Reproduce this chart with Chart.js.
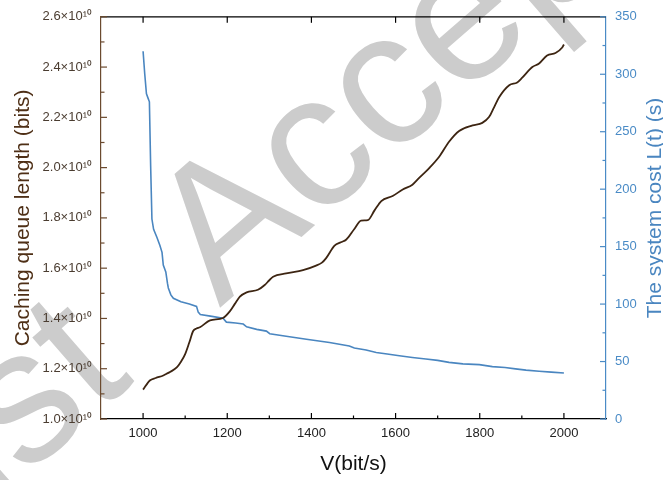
<!DOCTYPE html>
<html>
<head>
<meta charset="utf-8">
<script src="https://cdn.jsdelivr.net/npm/chart.js@4.4.1/dist/chart.umd.min.js"></script>
<style>
  html, body { margin: 0; padding: 0; background: #fff; }
</style>
</head>
<body>
<canvas id="myChart" width="663" height="480"></canvas>
<script>
// caching queue length curve (brown, left axis)
const queueV = [1000, 1016, 1030, 1048, 1056, 1065, 1080, 1090, 1100, 1110, 1119, 1127, 1135, 1159, 1190, 1206, 1218, 1230, 1246, 1273, 1289, 1300, 1309, 1340, 1380, 1411, 1425, 1435, 1455, 1470, 1483, 1502, 1518, 1534, 1550, 1566, 1593, 1617, 1640, 1656, 1680, 1704, 1727, 1751, 1783, 1806, 1822, 1834, 1846, 1870, 1889, 1901, 1925, 1941, 1960, 1980, 1996, 2000];
const queueLen = [1.117e10, 1.153e10, 1.163e10, 1.173e10, 1.180e10, 1.188e10, 1.205e10, 1.228e10, 1.258e10, 1.305e10, 1.350e10, 1.360e10, 1.365e10, 1.392e10, 1.402e10, 1.428e10, 1.458e10, 1.487e10, 1.504e10, 1.514e10, 1.533e10, 1.552e10, 1.566e10, 1.579e10, 1.592e10, 1.610e10, 1.622e10, 1.640e10, 1.690e10, 1.703e10, 1.714e10, 1.756e10, 1.789e10, 1.791e10, 1.830e10, 1.867e10, 1.887e10, 1.913e10, 1.932e10, 1.959e10, 1.998e10, 2.044e10, 2.103e10, 2.146e10, 2.168e10, 2.178e10, 2.201e10, 2.240e10, 2.280e10, 2.328e10, 2.339e10, 2.358e10, 2.400e10, 2.414e10, 2.446e10, 2.456e10, 2.478e10, 2.490e10];

// system cost curve (blue, right axis)
const costV = [1000, 1004, 1008, 1012, 1015, 1018, 1021, 1025, 1033, 1040, 1045, 1048, 1054, 1058, 1060, 1066, 1072, 1090, 1110, 1127, 1131, 1136, 1160, 1190, 1198, 1220, 1238, 1246, 1270, 1293, 1301, 1340, 1388, 1443, 1490, 1502, 1530, 1554, 1580, 1609, 1640, 1672, 1700, 1727, 1760, 1799, 1830, 1860, 1885, 1910, 1941, 1970, 2000];
const costL = [320, 300, 283, 279, 276, 220, 174, 165, 158, 151, 145, 134, 128, 118, 114, 108, 105, 102, 100, 98, 93, 91, 89.5, 87.7, 84.3, 83.5, 82.6, 80.2, 78, 76.5, 74.2, 72, 69.4, 66.5, 63.6, 61.7, 60, 57.9, 56.5, 55, 53.5, 52.2, 51, 49.3, 48, 47.3, 45.6, 44.8, 43.6, 42.5, 41.5, 40.8, 40];

const xTicks = [1000, 1200, 1400, 1600, 1800, 2000];
const queueTicks = [1.0e10, 1.2e10, 1.4e10, 1.6e10, 1.8e10, 2.0e10, 2.2e10, 2.4e10, 2.6e10];
const costTicks = [0, 50, 100, 150, 200, 250, 300, 350];

const BROWN = '#3d2512';
const BROWN_AXIS = '#6b4a2f';
const BLUE = '#4a86c0';
const BLUE_AXIS = '#4a8bc6';
const FONT = '"Liberation Sans", Arial, sans-serif';

// watermark under everything
const watermark = {
  id: 'watermark',
  beforeDraw(chart) {
    const ctx = chart.ctx;
    ctx.save();
    ctx.fillStyle = '#fff';
    ctx.fillRect(0, 0, chart.width, chart.height);
    ctx.translate(-83, 571);
    ctx.rotate(-41 * Math.PI / 180);
    ctx.font = '190px ' + FONT;
    ctx.fillStyle = '#cccccc';
    ctx.textBaseline = 'alphabetic';
    ctx.fillText('Accepted', 401, 0);
    ctx.textAlign = 'right';
    ctx.fillText('Just', 290, 0);
    ctx.restore();
  }
};

// inward tick marks, top frame line and right title
const frame = {
  id: 'frame',
  afterDraw(chart) {
    const {ctx, chartArea: a, scales} = chart;
    const x = scales.x, yq = scales.yQueue, yc = scales.yCost;
    ctx.save();
    ctx.lineWidth = 1.2;
    const seg = (x1, y1, x2, y2, c) => {
      ctx.strokeStyle = c;
      ctx.beginPath(); ctx.moveTo(x1, y1); ctx.lineTo(x2, y2); ctx.stroke();
    };
    seg(a.left, a.top, a.right, a.top, '#000');
    xTicks.forEach((v, i) => {
      const px = x.getPixelForValue(v);
      seg(px, a.bottom, px, a.bottom - 6, '#000');
      seg(px, a.top, px, a.top + 6, '#000');
      if (i > 0) {
        const m = x.getPixelForValue((v + xTicks[i - 1]) / 2);
        seg(m, a.bottom, m, a.bottom - 3.5, '#000');
      }
    });
    queueTicks.forEach((v, i) => {
      const py = yq.getPixelForValue(v);
      seg(a.left, py, a.left + 6, py, BROWN_AXIS);
      if (i > 0) {
        const m = yq.getPixelForValue((v + queueTicks[i - 1]) / 2);
        seg(a.left, m, a.left + 3.5, m, BROWN_AXIS);
      }
    });
    costTicks.forEach((v, i) => {
      const py = yc.getPixelForValue(v);
      seg(a.right, py, a.right - 6, py, BLUE_AXIS);
      if (i > 0) {
        const m = yc.getPixelForValue((v + costTicks[i - 1]) / 2);
        seg(a.right, m, a.right - 3.5, m, BLUE_AXIS);
      }
    });
    // right title reads bottom to top
    ctx.translate(655, 208);
    ctx.rotate(-Math.PI / 2);
    ctx.font = '21px ' + FONT;
    ctx.fillStyle = BLUE;
    ctx.textAlign = 'center';
    ctx.textBaseline = 'middle';
    ctx.fillText('The system cost L(t) (s)', 0, 0);
    ctx.restore();
  }
};

const queuePoints = queueV.map((v, i) => ({x: v, y: queueLen[i]}));
const costPoints = costV.map((v, i) => ({x: v, y: costL[i]}));

new Chart(document.getElementById('myChart').getContext('2d'), {
  type: 'line',
  data: {
    datasets: [{
      label: 'Caching queue length',
      data: queuePoints,
      yAxisID: 'yQueue',
      borderColor: BROWN,
      borderWidth: 1.8,
      pointRadius: 0,
      cubicInterpolationMode: 'monotone',
      fill: false
    }, {
      label: 'System cost',
      data: costPoints,
      yAxisID: 'yCost',
      borderColor: BLUE,
      borderWidth: 1.6,
      pointRadius: 0,
      tension: 0,
      fill: false
    }]
  },
  options: {
    responsive: false,
    devicePixelRatio: 1,
    animation: false,
    layout: { padding: { top: 12, left: 0, right: 0, bottom: 0 } },
    plugins: {
      legend: { display: false },
      tooltip: { enabled: false }
    },
    scales: {
      x: {
        type: 'linear',
        min: 900,
        max: 2100,
        afterBuildTicks: s => { s.ticks = xTicks.map(v => ({value: v})); },
        afterFit: s => { s.height = 61; },
        grid: { display: true, drawOnChartArea: false, drawTicks: false },
        border: { display: true, color: '#000', width: 1.2 },
        ticks: { color: '#222', font: { family: FONT, size: 13 }, padding: 7, maxRotation: 0, callback: v => String(v) },
        title: { display: true, text: 'V(bit/s)', color: '#111', font: { family: FONT, size: 21 }, padding: { top: 0, bottom: 3 } }
      },
      yQueue: {
        type: 'linear',
        position: 'left',
        min: 1.0e10,
        max: 2.6e10,
        afterBuildTicks: s => { s.ticks = queueTicks.map(v => ({value: v})); },
        afterFit: s => { s.width = 101; },
        grid: { display: true, drawOnChartArea: false, drawTicks: false },
        border: { display: true, color: BROWN_AXIS, width: 1.2 },
        ticks: {
          color: '#4a3c30',
          font: { family: FONT, size: 13 },
          padding: 9,
          callback: v => (v / 1e10).toFixed(1) + '×10¹⁰'
        },
        title: { display: true, text: 'Caching queue length (bits)', color: '#4e2f16', font: { family: FONT, size: 21 }, padding: { top: 11, bottom: 0 } }
      },
      yCost: {
        type: 'linear',
        position: 'right',
        min: 0,
        max: 350,
        afterBuildTicks: s => { s.ticks = costTicks.map(v => ({value: v})); },
        afterFit: s => { s.width = 57; },
        grid: { display: true, drawOnChartArea: false, drawTicks: false },
        border: { display: true, color: BLUE_AXIS, width: 1.2 },
        ticks: { color: BLUE_AXIS, font: { family: FONT, size: 13 }, padding: 9 },
        title: { display: false }
      }
    }
  },
  plugins: [watermark, frame]
});
</script>
</body>
</html>
